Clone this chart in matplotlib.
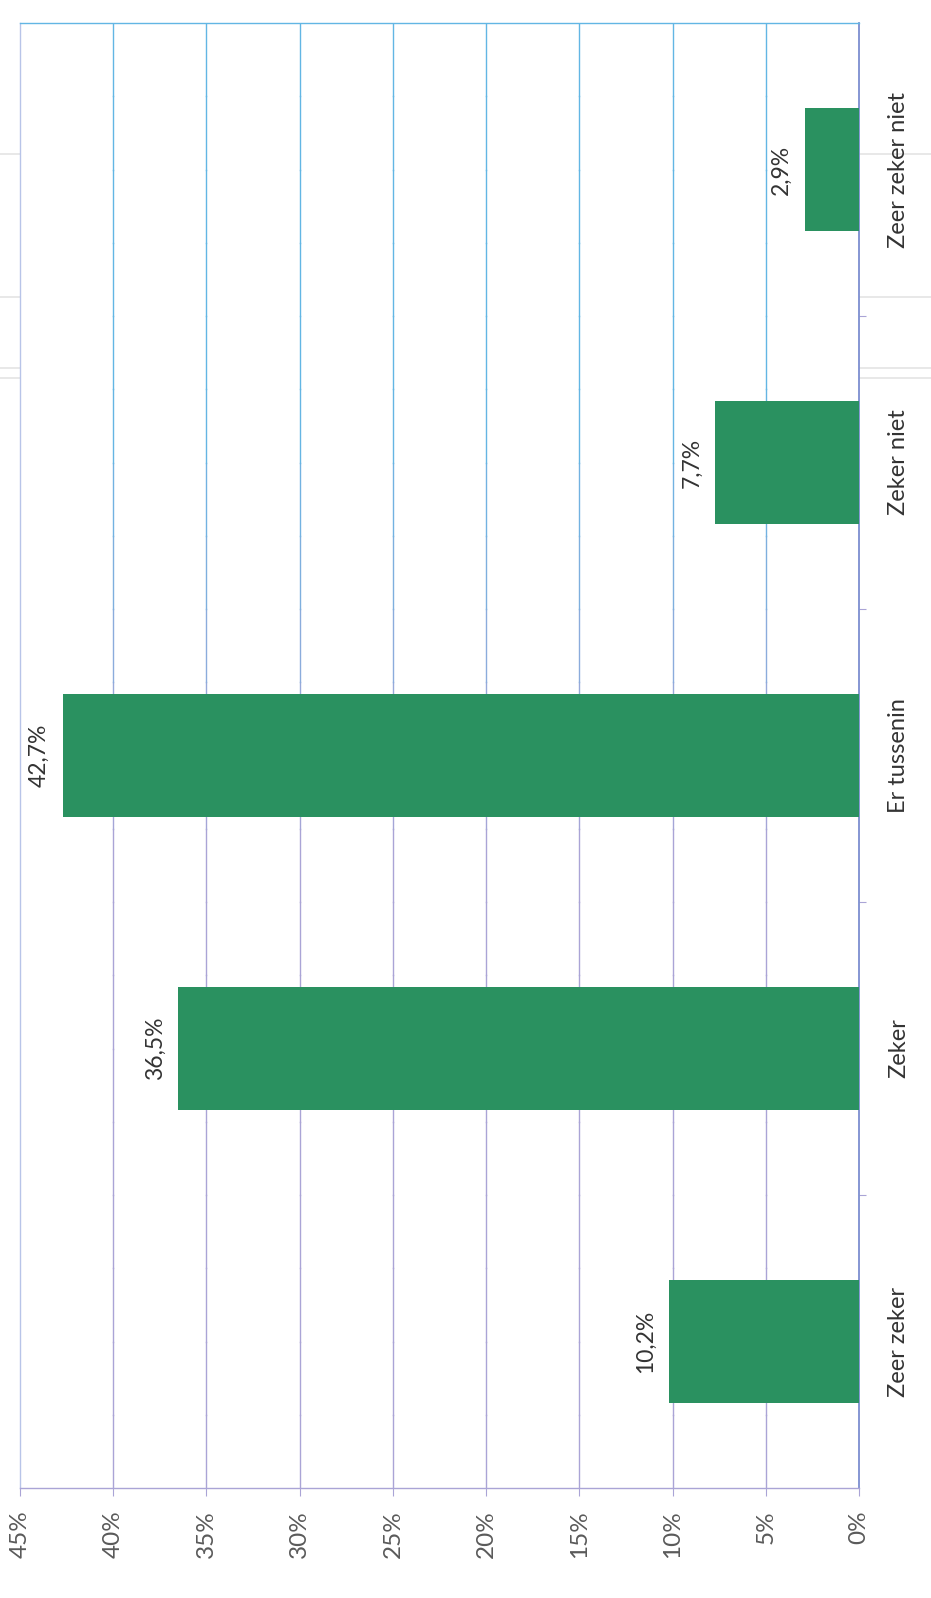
import numpy as np
import matplotlib
matplotlib.use('Agg')
import matplotlib.pyplot as plt
from matplotlib.lines import Line2D
from matplotlib.colors import to_rgb
from matplotlib.ticker import FuncFormatter

plt.rcParams['font.family'] = ['Lato', 'DejaVu Sans']

# data (categories bottom to top in the rotated picture)
categories = ['Zeer zeker', 'Zeker', 'Er tussenin', 'Zeker niet', 'Zeer zeker niet']
values = [10.2, 36.5, 42.7, 7.7, 2.9]
value_ticks = [0, 5, 10, 15, 20, 25, 30, 35, 40, 45]

bar_color = '#2a9160'
grid_blue = '#62b6e4'
grid_purple = '#aaa4d6'
text_color = '#5a5a5a'

fig = plt.figure(figsize=(9.31, 15.98), dpi=100)
W, H = 931, 1598
ax = fig.add_axes([20 / W, 1 - 1488 / H, (859 - 20) / W, (1488 - 23) / H])

y = np.arange(len(categories))
ax.barh(y, values, height=0.42, color=bar_color, zorder=3)

ax.set_xlim(45, 0)
ax.set_ylim(-0.5, len(categories) - 0.5)

# value gridlines: bluish at top fading to purplish below (as in the scan)
cb, cp = np.array(to_rgb(grid_blue)), np.array(to_rgb(grid_purple))
nseg = 20
for k in range(nseg):
    f = k / (nseg - 1)
    mix = np.clip((f - 0.45) / 0.3, 0, 1)   # f is height fraction
    col = cp * (1 - mix) + cb * mix
    for t in value_ticks[1:-1]:
        ax.axvline(t, ymin=k / nseg, ymax=(k + 1) / nseg, color=col, lw=1.0, zorder=1)

# value axis at the bottom, rotated labels
ax.set_xticks(value_ticks)
ax.xaxis.set_major_formatter(FuncFormatter(lambda v, p: f'{int(v)}%'))
ax.tick_params(axis='x', direction='out', length=6, width=0.8, color=grid_purple,
               pad=10, labelsize=17.5, labelcolor=text_color, labelrotation=90)

# category axis on the right
ax.yaxis.tick_right()
ax.set_yticks(y)
ax.set_yticklabels(categories, rotation=90, va='center')
ax.set_yticks(np.arange(len(categories) - 1) + 0.5, minor=True)
ax.tick_params(axis='y', which='major', length=0, pad=21, labelsize=17, labelcolor='#333333')
ax.tick_params(axis='y', which='minor', direction='out', length=5, width=0.8, color=grid_purple)

ax.spines['top'].set_color(grid_blue)
ax.spines['top'].set_linewidth(1.0)
ax.spines['left'].set_color('#b8c4e8')
ax.spines['left'].set_linewidth(1.0)
ax.spines['bottom'].set_color(grid_purple)
ax.spines['bottom'].set_linewidth(1.0)
ax.spines['right'].set_color('#7c8ed0')
ax.spines['right'].set_linewidth(1.3)

# data labels beyond the bar ends
for yi, v in zip(y, values):
    ax.annotate(f'{v:.1f}%'.replace('.', ','), xy=(v, yi), xytext=(-17, 0),
                textcoords='offset points', rotation=90, ha='center', va='center',
                fontsize=16.5, color='#333333')

# faint scan lines across the page
for yy in [154, 297, 368, 378]:
    fig.add_artist(Line2D([0, 1], [1 - yy / H, 1 - yy / H], transform=fig.transFigure,
                          color='#e4e4e4', lw=1.2, zorder=0))

fig.savefig('out.png', dpi=100, facecolor='white')
